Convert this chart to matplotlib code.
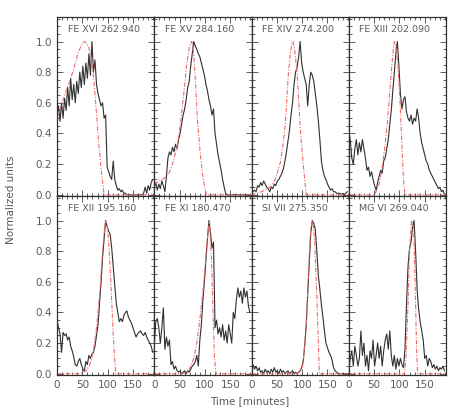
import numpy as np
import matplotlib
matplotlib.use("Agg")
import matplotlib.pyplot as plt
from matplotlib.ticker import MultipleLocator

# ---------------- data ----------------
titles = ["FE XVI 262.940", "FE XV 284.160", "FE XIV 274.200", "FE XIII 202.090",
          "FE XII 195.160", "FE XI 180.470", "SI VII 275.350", "MG VI 269.040"]

time_obs = np.arange(0, 190, 3)  # observation times [minutes]

obs_fe16 = [0.52, 0.58, 0.48, 0.60, 0.50, 0.63, 0.55, 0.70, 0.58, 0.76, 0.62, 0.72, 0.60, 0.74, 0.66, 0.80,
            0.70, 0.84, 0.72, 0.86, 0.76, 0.92, 0.78, 1.00, 0.80, 0.88, 0.72, 0.66, 0.62, 0.58, 0.60, 0.50,
            0.52, 0.18, 0.15, 0.12, 0.10, 0.22, 0.10, 0.06, 0.03, 0.04, 0.02, 0.03, 0.01, 0.01, 0.00, 0.00,
            0.00, 0.00, 0.00, 0.00, 0.00, 0.00, 0.00, 0.00, 0.00, 0.01, 0.05, 0.01, 0.06, 0.03, 0.08, 0.10]
obs_fe15 = [0.05, 0.08, 0.03, 0.07, 0.04, 0.09, 0.06, 0.02, 0.12, 0.24, 0.28, 0.26, 0.31, 0.28, 0.33, 0.30,
            0.36, 0.40, 0.46, 0.52, 0.56, 0.62, 0.70, 0.74, 0.84, 0.92, 1.00, 0.97, 0.95, 0.92, 0.90, 0.86,
            0.82, 0.78, 0.72, 0.68, 0.62, 0.58, 0.52, 0.56, 0.40, 0.33, 0.26, 0.21, 0.16, 0.10, 0.05, 0.01,
            0.00, 0.00, 0.00, 0.00, 0.00, 0.00, 0.00, 0.00, 0.00, 0.00, 0.00, 0.00, 0.00, 0.00, 0.00, 0.00]
obs_fe14 = [0.01, 0.02, 0.03, 0.02, 0.06, 0.05, 0.08, 0.06, 0.09, 0.07, 0.05, 0.04, 0.02, 0.05, 0.04, 0.07,
            0.06, 0.09, 0.10, 0.12, 0.14, 0.17, 0.22, 0.28, 0.35, 0.42, 0.52, 0.60, 0.72, 0.80, 0.83, 0.90,
            1.00, 0.86, 0.80, 0.76, 0.72, 0.58, 0.72, 0.80, 0.78, 0.74, 0.66, 0.58, 0.48, 0.36, 0.22, 0.16,
            0.12, 0.10, 0.07, 0.05, 0.03, 0.04, 0.02, 0.02, 0.01, 0.01, 0.01, 0.00, 0.01, 0.00, 0.01, 0.02]
obs_fe13 = [0.42, 0.36, 0.24, 0.20, 0.30, 0.36, 0.26, 0.34, 0.28, 0.36, 0.30, 0.24, 0.16, 0.18, 0.12, 0.15,
            0.10, 0.06, 0.03, 0.08, 0.12, 0.16, 0.14, 0.22, 0.24, 0.30, 0.36, 0.46, 0.55, 0.68, 0.80, 0.92,
            1.00, 0.84, 0.66, 0.56, 0.62, 0.64, 0.54, 0.50, 0.48, 0.52, 0.46, 0.50, 0.48, 0.56, 0.50, 0.40,
            0.34, 0.30, 0.26, 0.22, 0.20, 0.16, 0.14, 0.12, 0.10, 0.08, 0.06, 0.04, 0.05, 0.02, 0.03, 0.00]
obs_fe12 = [0.35, 0.30, 0.26, 0.14, 0.27, 0.25, 0.26, 0.22, 0.24, 0.18, 0.15, 0.11, 0.06, 0.05, 0.08, 0.10,
            0.06, 0.03, 0.02, 0.08, 0.06, 0.12, 0.10, 0.13, 0.14, 0.18, 0.25, 0.32, 0.46, 0.60, 0.76, 0.88,
            1.00, 0.96, 0.93, 0.91, 0.82, 0.70, 0.58, 0.46, 0.40, 0.34, 0.36, 0.34, 0.38, 0.40, 0.41, 0.37,
            0.35, 0.33, 0.30, 0.27, 0.24, 0.26, 0.27, 0.28, 0.26, 0.25, 0.27, 0.24, 0.22, 0.20, 0.18, 0.14]
obs_fe11 = [0.18, 0.34, 0.36, 0.30, 0.20, 0.30, 0.43, 0.16, 0.24, 0.18, 0.22, 0.06, 0.08, 0.03, 0.05, 0.02,
            0.01, 0.02, 0.00, 0.01, 0.02, 0.00, 0.02, 0.01, 0.03, 0.05, 0.06, 0.08, 0.12, 0.05, 0.22, 0.32,
            0.48, 0.60, 0.74, 0.88, 1.00, 0.92, 0.82, 0.86, 0.30, 0.35, 0.26, 0.30, 0.24, 0.32, 0.22, 0.28,
            0.20, 0.32, 0.26, 0.20, 0.40, 0.36, 0.48, 0.56, 0.50, 0.54, 0.46, 0.56, 0.50, 0.54, 0.44, 0.40]
obs_si7 = [0.02, 0.06, 0.03, 0.05, 0.02, 0.04, 0.01, 0.02, 0.00, 0.03, 0.01, 0.02, 0.00, 0.03, 0.01, 0.04,
           0.01, 0.02, 0.00, 0.03, 0.01, 0.02, 0.00, 0.01, 0.02, 0.00, 0.01, 0.02, 0.00, 0.01, 0.00, 0.01,
           0.02, 0.04, 0.08, 0.18, 0.32, 0.52, 0.72, 0.92, 1.00, 0.98, 0.94, 0.80, 0.64, 0.55, 0.45, 0.37,
           0.28, 0.20, 0.17, 0.14, 0.12, 0.09, 0.04, 0.02, 0.01, 0.00, 0.00, 0.00, 0.00, 0.00, 0.00, 0.00]
obs_mg6 = [0.02, 0.10, 0.15, 0.05, 0.18, 0.12, 0.05, 0.10, 0.28, 0.12, 0.20, 0.05, 0.12, 0.02, 0.15, 0.10,
           0.22, 0.05, 0.12, 0.20, 0.10, 0.18, 0.05, 0.15, 0.22, 0.26, 0.16, 0.28, 0.12, 0.05, 0.12, 0.03,
           0.10, 0.05, 0.10, 0.06, 0.04, 0.16, 0.45, 0.70, 0.82, 0.86, 0.96, 1.00, 0.80, 0.55, 0.42, 0.34,
           0.28, 0.22, 0.10, 0.12, 0.05, 0.10, 0.08, 0.04, 0.06, 0.03, 0.05, 0.02, 0.04, 0.03, 0.05, 0.02]

# model curves (time, value)
mod_t_fe16 = [0, 8, 16, 24, 32, 42, 50, 55, 62, 69, 75, 82, 88, 93, 192]
mod_y_fe16 = [0.50, 0.58, 0.66, 0.73, 0.81, 0.93, 0.99, 1.00, 0.97, 0.87, 0.66, 0.35, 0.14, 0.00, 0.00]
mod_t_fe15 = [0, 10, 20, 29, 38, 46, 52, 59, 64, 69, 74, 78, 82, 85, 90, 95, 100, 103, 192]
mod_y_fe15 = [0.07, 0.09, 0.11, 0.14, 0.22, 0.33, 0.47, 0.68, 0.85, 0.96, 1.00, 0.92, 0.70, 0.50, 0.30, 0.14, 0.04, 0.00, 0.00]
mod_t_fe14 = [0, 20, 37, 47, 57, 62, 67, 73, 77, 80, 82, 85, 90, 96, 100, 103, 108, 192]
mod_y_fe14 = [0.00, 0.02, 0.05, 0.10, 0.21, 0.32, 0.47, 0.80, 0.93, 0.99, 1.00, 0.95, 0.80, 0.45, 0.28, 0.17, 0.00, 0.00]
mod_t_fe13 = [0, 51, 60, 67, 72, 77, 84, 88, 90, 93, 97, 101, 104, 108, 111, 192]
mod_y_fe13 = [0.00, 0.00, 0.07, 0.20, 0.33, 0.50, 0.80, 0.95, 1.00, 0.97, 0.85, 0.62, 0.40, 0.10, 0.00, 0.00]
mod_t_fe12 = [0, 45, 58, 65, 72, 78, 85, 91, 95, 97, 99, 101, 104, 107, 111, 116, 192]
mod_y_fe12 = [0.00, 0.00, 0.02, 0.06, 0.15, 0.30, 0.55, 0.85, 0.98, 1.00, 0.97, 0.90, 0.75, 0.55, 0.25, 0.00, 0.00]
mod_t_fe11 = [0, 55, 68, 78, 84, 91, 98, 104, 109, 113, 116, 119, 122, 192]
mod_y_fe11 = [0.00, 0.00, 0.02, 0.10, 0.20, 0.38, 0.60, 0.85, 1.00, 0.75, 0.40, 0.10, 0.00, 0.00]
mod_t_si7 = [0, 91, 101, 108, 113, 117, 121, 125, 129, 132, 134, 192]
mod_y_si7 = [0.00, 0.00, 0.05, 0.30, 0.70, 0.95, 1.00, 0.85, 0.50, 0.20, 0.00, 0.00]
mod_t_mg6 = [0, 110, 113, 117, 120, 124, 128, 131, 134, 136, 192]
mod_y_mg6 = [0.00, 0.00, 0.10, 0.45, 0.80, 1.00, 0.95, 0.60, 0.15, 0.00, 0.00]

observed = [obs_fe16, obs_fe15, obs_fe14, obs_fe13, obs_fe12, obs_fe11, obs_si7, obs_mg6]
model_t = [mod_t_fe16, mod_t_fe15, mod_t_fe14, mod_t_fe13, mod_t_fe12, mod_t_fe11, mod_t_si7, mod_t_mg6]
model_y = [mod_y_fe16, mod_y_fe15, mod_y_fe14, mod_y_fe13, mod_y_fe12, mod_y_fe11, mod_y_si7, mod_y_mg6]

xticks = [0, 50, 100, 150]
yticks = [0.0, 0.2, 0.4, 0.6, 0.8, 1.0]

# ---------------- plot ----------------
text_col = "#5a5a5a"
plt.rcParams["font.family"] = "DejaVu Sans"
fig = plt.figure(figsize=(4.63, 4.12), dpi=100)
gs = fig.add_gridspec(2, 4, left=57/463, right=446/463, top=1-17/412, bottom=1-375/412,
                      wspace=0, hspace=0)

for i in range(8):
    r, c = divmod(i, 4)
    ax = fig.add_subplot(gs[r, c])
    ax.plot(time_obs, observed[i], color="#303030", lw=0.8)
    ax.plot(model_t[i], model_y[i], color="#f06a6a", lw=0.8, ls=(0, (4, 1.5, 1, 1.5)))
    ax.set_xlim(0, 192)
    ax.set_ylim(-0.008, 1.16)
    ax.xaxis.set_major_locator(MultipleLocator(50))
    ax.xaxis.set_minor_locator(MultipleLocator(10))
    ax.yaxis.set_major_locator(MultipleLocator(0.2))
    ax.yaxis.set_minor_locator(MultipleLocator(0.05))
    ax.tick_params(which="both", direction="in", top=True, right=True, colors="#404040",
                   labelcolor=text_col, labelsize=7.5, width=0.6)
    ax.tick_params(which="major", length=4)
    ax.tick_params(which="minor", length=2)
    ax.set_xticks(xticks)
    ax.set_yticks(yticks)
    ax.set_yticklabels([f"{v:.1f}" for v in yticks])
    if c != 0:
        ax.tick_params(labelleft=False)
    if r != 1:
        ax.tick_params(labelbottom=False)
    for s in ax.spines.values():
        s.set_color("#303030")
        s.set_linewidth(0.9)
    ax.text(0.108, 0.93, titles[i], transform=ax.transAxes, ha="left", va="center",
            fontsize=6.8, color=text_col)

fig.text(0.024, 0.515, "Normalized units", rotation=90, ha="center", va="center",
         fontsize=7.5, color=text_col)
fig.text(0.54, 0.027, "Time [minutes]", ha="center", va="center", fontsize=7.5, color=text_col)

fig.savefig("out.png", dpi=100)
